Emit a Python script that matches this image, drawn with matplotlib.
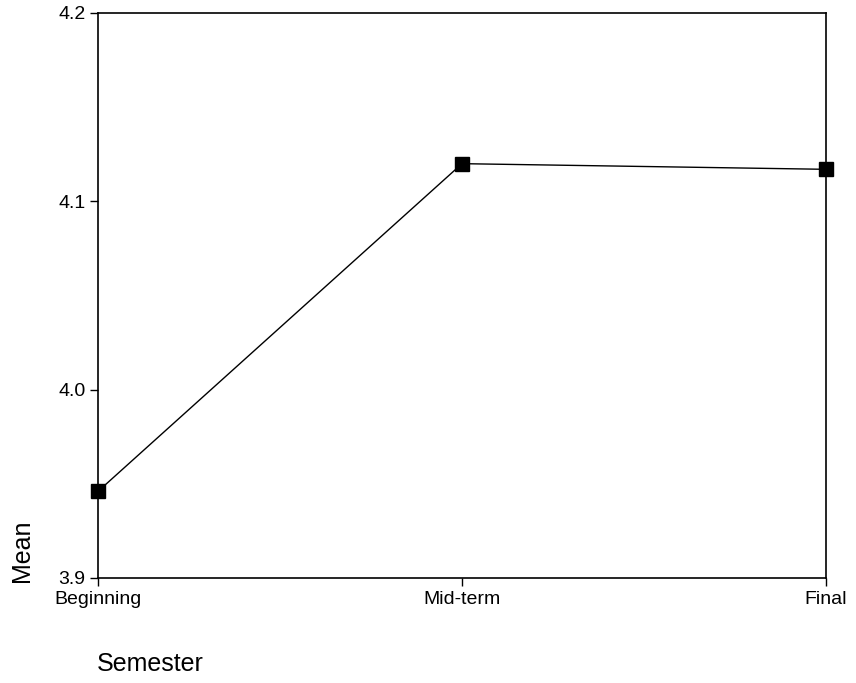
import matplotlib
matplotlib.use('Agg')
import matplotlib.pyplot as plt

plt.rcParams['font.family'] = ['Liberation Sans', 'DejaVu Sans']

semesters = ['Beginning', 'Mid-term', 'Final']
means = [3.946, 4.120, 4.117]
y_ticks = [3.9, 4.0, 4.1, 4.2]

fig = plt.figure(figsize=(8.56, 6.83), dpi=100)
ax = fig.add_axes([98 / 856, 1 - 578 / 683, (826 - 98) / 856, (578 - 13) / 683])

x = list(range(len(semesters)))
ax.plot(x, means, color='black', linewidth=1.0, marker='s', markersize=10,
        markerfacecolor='black', markeredgecolor='black', clip_on=False, zorder=3)

ax.set_xlim(0, len(semesters) - 1)
ax.set_ylim(3.9, 4.2)
ax.set_xticks(x)
ax.set_xticklabels(semesters)
ax.set_yticks(y_ticks)
ax.set_yticklabels([f'{v:.1f}' for v in y_ticks])
ax.tick_params(axis='both', labelsize=14, length=6, width=1, direction='out', pad=3)
for s in ax.spines.values():
    s.set_linewidth(1.2)

fig.text(22 / 856, 1 - 551 / 683, 'Mean', rotation=90, fontsize=18, ha='center', va='center')
fig.text(97 / 856, 1 - 664 / 683, 'Semester', fontsize=18, ha='left', va='center')

fig.savefig('out.png', dpi=100)
